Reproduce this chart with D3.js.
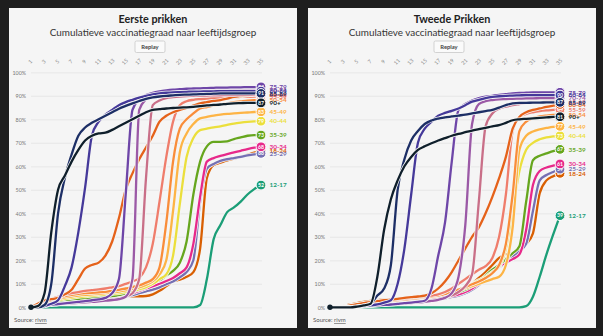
<!DOCTYPE html>
<html>
<head>
<meta charset="utf-8">
<script src="https://cdnjs.cloudflare.com/ajax/libs/d3/7.8.5/d3.min.js"></script>
<style>
  body { margin: 0; background: #1e1e1e; }
  svg { display: block; font-family: Lato, "Open Sans", sans-serif; }
</style>
</head>
<body>
<svg id="chart"></svg>
<script>
const width = 603;
const height = 336;

const weeks = d3.range(1, 36);
const xTicks = d3.range(1, 36, 2);
const yTicks = d3.range(0, 101, 10);

const groups = ['12-17', '18-24', '25-29', '30-34', '35-39', '40-44', '45-49', '50-54',
                '55-59', '60-64', '65-69', '70-74', '75-79', '80-84', '85-89', '90+'];
const groupColors = ['#1b9e77', '#d95f02', '#7570b3', '#e7298a', '#66a61e', '#ebdf3c', '#fdb445', '#f98d3a',
                     '#ef7d6c', '#e5621a', '#c96f88', '#9b59a6', '#6e46a8', '#45399a', '#1d2f66', '#0f1f2b'];

// eerste prikken, % per week
const eerste1217 = [0,0,0,0,0,0,0,0,0,0,0,0,0,0,0,0,0,0,0,0,0,0,0,0,0,1,12,29,35,40.5,42.5,45,48,50.3,52];
const eerste1824 = [0,1,2,2.5,3,3.3,3.6,3.9,4.1,4.3,4.4,4.5,4.5,4.6,4.6,4.7,4.7,4.8,5.5,7,9,11,11.8,13,15,25,55,60.5,61.5,62.5,63.3,64,64.9,65.8,66.6];
const eerste2529 = [0,0.4,1,1.5,1.8,2,2.2,2.4,2.6,2.8,3,3.2,3.5,3.9,4.5,5.2,6,6.8,7.5,8.5,9.8,11,12.8,15,20,45,59,61,62.3,63,63.5,64,64.6,65.1,65.5];
const eerste3034 = [0,0.5,1.2,1.8,2.2,2.5,2.7,2.9,3.1,3.3,3.5,3.7,4,4.5,5.2,6,7,8,9,10,11.2,12.5,14.5,17,27,47,62,63.5,64.4,65.2,65.9,66.6,67.3,67.9,68.3];
const eerste3539 = [0,0.5,1.3,2,2.6,3,3.3,3.6,3.9,4.1,4.3,4.5,4.8,5.2,5.8,6.6,7.5,8.5,10.5,11.5,13.5,15.5,19,28,48,62,68.5,70.4,70.4,70.6,71.6,72.3,73,73.3,73.3];
const eerste4044 = [0,0.6,1.5,2.3,3,3.6,4,4.4,4.7,5,5.2,5.4,5.7,6,6.5,7,7.7,8.6,10,12,14,22,44,64,72,75.4,76,76.6,77,77.6,78.2,78.6,78.9,79.1,79.2];
const eerste4549 = [0,0.7,1.8,2.7,3.5,4.2,4.6,5,5.3,5.5,5.7,6,6.3,6.7,7.2,7.8,8.5,9.5,11,14,20,41,66,74,78,80.4,81,81.6,82,82.3,82.5,82.7,82.9,83.1,83.2];
const eerste5054 = [0,0.8,2,3,4,4.8,5.3,5.7,6,6.2,6.4,6.6,7,7.4,8,8.6,9.3,10.5,12,17,36,62,76,80,82.5,84.6,85.2,85.8,86.2,86.8,87.3,87.6,87.9,88.1,88.2];
const eerste5559 = [0,1,2.5,3.5,4.5,5.5,6,6.5,7,7.3,7.6,8,8.5,9,10,11,12.5,17,27,45,64,79,86,87.7,88.3,88.6,88.8,89,89.1,89.2,89.4,89.5,89.6,89.7,89.8];
const eerste6064 = [0,1.5,3,3.5,4,5.5,7.5,12,16.5,18,19,22,28,38,50,57,63,68,73,79,81.5,83,84,84.8,85.8,86.8,87.3,87.8,88.2,88.8,89.5,89.9,90.2,90.5,90.6];
const eerste6569 = [0,0.3,0.8,1.2,1.5,1.8,2,2.2,2.4,2.6,2.8,3,3.3,3.8,4.5,6,12,55,86,88,89,89.4,89.7,89.9,90,90.1,90.1,90.2,90.2,90.3,90.3,90.4,90.4,90.5,90.5];
const eerste7074 = [0,0.3,0.7,1,1.3,1.5,1.7,1.9,2.1,2.3,2.5,2.8,3.1,3.5,4.5,12,84,88.5,90.3,91,91.4,91.7,91.9,92,92.1,92.2,92.3,92.3,92.4,92.4,92.5,92.5,92.5,92.6,92.6];
const eerste7579 = [0,0.3,0.7,1,1.4,1.7,2,2.3,2.6,3,3.4,4,6,12,48,84,88.5,90.3,91.3,91.9,92.3,92.6,92.8,93,93.1,93.2,93.3,93.4,93.5,93.5,93.6,93.6,93.7,93.7,93.8];
const eerste8084 = [0,0,0.5,1.5,3,9,17,32,51,73,79,82,84,86,87.3,88.3,89.2,90,90.6,91,91.3,91.5,91.6,91.7,91.8,91.8,91.9,91.9,92,92,92,92,92,92,92];
const eerste8589 = [0,0,1,10,40,55,65,73,76.5,78.5,80,81.5,83,84.5,85.7,86.8,87.8,88.7,89.3,89.7,90,90.2,90.4,90.5,90.6,90.7,90.8,90.9,91,91,91,91,91,91,91];
const eerste90 = [0,0.5,6,32,50,56,62,67,71,73,74,74.3,75.5,77,78.5,80,81.5,83,84,84.3,84.6,84.8,85,85.1,85.3,85.6,85.9,86.1,86.3,86.6,86.8,86.9,87,87,87];

// tweede prikken, % per week
const tweede1217 = [0,0,0,0,0,0,0,0,0,0,0,0,0,0,0,0,0,0,0,0,0,0,0,0,0,0,0,0,0,0.5,4.5,13,22.5,31,39];
const tweede1824 = [0,0,0.5,1.2,1.8,2.3,2.7,3,3.3,3.5,3.7,3.9,4,4.1,4.2,4.3,4.5,4.8,5.5,6.5,8,10,12.5,15,18,21,22.5,23,24,27,31.5,48.5,54,55.8,57];
const tweede2529 = [0,0,0.2,0.4,0.6,0.8,1,1.2,1.4,1.6,1.8,2,2.2,2.4,2.6,2.9,3.3,3.8,4.4,5,6,7.5,9.5,12,14.5,17,19,21.5,24,27,41,54,56.3,57.6,58.8];
const tweede3034 = [0,0,0.2,0.5,0.8,1,1.2,1.4,1.6,1.8,2,2.2,2.4,2.7,3,3.3,3.7,4.2,4.8,5.5,6.5,8,10,12.5,15,17.5,19,20.5,22.5,33,52,58,59.5,60.3,61];
const tweede3539 = [0,0,0.2,0.5,0.8,1.1,1.4,1.7,2,2.3,2.6,2.9,3.2,3.5,3.8,4.1,4.5,5,5.7,6.5,7.5,9,11,13.5,16,18,20.5,23,26,45,62.6,64.5,65.5,66.5,67.2];
const tweede4044 = [0,0,0.2,0.6,0.9,1.2,1.5,1.8,2.1,2.4,2.7,3,3.3,3.6,3.9,4.2,4.6,5.1,6,7,8.5,10,11.5,13,15,17.3,25,41,58,67,70,71.5,72.3,72.7,73];
const tweede4549 = [0,0,0.3,0.7,1,1.3,1.6,1.9,2.2,2.5,2.8,3.1,3.4,3.7,4,4.3,4.7,5.2,6,7,8,9,10,11,12,13,18,34,67,73,74.8,75.7,76.3,76.8,77];
const tweede5054 = [0,0,0.3,0.7,1.1,1.5,1.8,2.1,2.4,2.7,3,3.3,3.6,3.9,4.2,4.6,5,5.6,6.5,7.5,8.5,9.8,11,12.5,14.5,18,27,48,75,79,80.5,81.2,81.6,81.9,82];
const tweede5559 = [0,0,0.3,0.8,1.3,1.8,2.2,2.5,2.8,3.1,3.4,3.7,4,4.3,4.6,5,5.5,6.5,8,10,12,14,16,17.5,21,30,48,75,81,82.3,83,83.5,83.8,84,84.2];
const tweede6064 = [0,0,0.3,0.8,1.3,1.8,2.2,2.6,3,3.3,3.6,4,4.3,4.6,5,6,8,11,15,20,25,30,34,40,47,55,64,76,81,83,84,84.6,85.3,85.8,86.3];
const tweede6569 = [0,0,0,0.2,0.4,0.6,0.8,1,1.2,1.4,1.6,1.8,2,2.3,2.6,3,3.5,4.2,5,6.5,9,14,45,77,82.5,84.5,85.4,86,86.5,87,87.2,87.3,87.4,87.5,87.5];
const tweede7074 = [0,0,0,0,0.2,0.4,0.6,0.8,1,1.2,1.4,1.6,1.8,2,2.3,2.7,3.2,4,6,13,35,78,86.5,87.7,88.2,88.5,88.6,88.7,88.8,88.9,88.9,89,89,89,89];
const tweede7579 = [0,0,0,0,0.2,0.4,0.6,0.8,1,1.2,1.5,1.8,2,2.3,2.8,8,22,36,62,84,86.5,88,89,89.6,90,90.4,90.7,91,91.2,91.3,91.4,91.4,91.5,91.5,91.5];
const tweede8084 = [0,0,0,0,0.2,0.5,0.8,1.2,2,3,10,25,48,70,76,79,81.5,82.7,83.6,84.6,86,87.5,88.3,89,89.5,89.8,90,90.1,90.2,90.3,90.3,90.3,90.3,90.3,90.3];
const tweede8589 = [0,0,0,0,0.3,0.8,1.5,5,8,18,50,63,71,75,78,79.5,80.3,80.8,81.2,81.6,82,82.5,83,83.5,84,85,86,86.8,87,87,87.1,87.1,87.2,87.2,87.2];
const tweede90 = [0,0,0,0,0.3,0.8,1.5,13,33,46,54,60,64,67,68.5,69.8,71,72,73,73.8,74.5,75.2,75.8,76.4,77,77.5,78.5,79.6,80,80.2,80.4,80.6,80.8,81,81.1];

const eersteValues = [eerste1217, eerste1824, eerste2529, eerste3034, eerste3539, eerste4044, eerste4549, eerste5054,
                      eerste5559, eerste6064, eerste6569, eerste7074, eerste7579, eerste8084, eerste8589, eerste90];
const tweedeValues = [tweede1217, tweede1824, tweede2529, tweede3034, tweede3539, tweede4044, tweede4549, tweede5054,
                      tweede5559, tweede6064, tweede6569, tweede7074, tweede7579, tweede8084, tweede8589, tweede90];

const panelW = 288;
const panelH = 320;

const svg = d3.select('#chart')
            .attr('width', width)
            .attr('height', height);

svg.append('rect').attr('width', width).attr('height', height).attr('fill', '#1e1e1e');

const x = d3.scaleLinear().domain([1, 35]).range([22, 252]);
const y = d3.scaleLinear().domain([0, 100]).range([299.3, 64.3]);

const line = d3.line()
    .x((d, i) => x(weeks[i]))
    .y(d => y(d))
    .curve(d3.curveMonotoneX);

function drawPanel(left, title, values) {
    const series = groups.map((g, i) => ({group: g, color: groupColors[i], values: values[i]}));

    const g = svg.append('g').attr('transform', `translate(${left}, 8)`);
    g.append('rect').attr('width', panelW).attr('height', panelH).attr('fill', '#f5f5f5');

    g.append('text')
        .attr('x', panelW / 2).attr('y', 15)
        .attr('text-anchor', 'middle')
        .attr('font-size', 10.8).attr('font-weight', 'bold').attr('fill', '#222')
        .text(title);
    g.append('text')
        .attr('x', panelW / 2).attr('y', 28)
        .attr('text-anchor', 'middle')
        .attr('font-size', 9.9).attr('fill', '#333')
        .text('Cumulatieve vaccinatiegraad naar leeftijdsgroep');

    // replay button
    const btn = g.append('g').attr('transform', `translate(${panelW / 2 - 18}, 33)`);
    btn.append('rect').attr('width', 30).attr('height', 11.5).attr('rx', 1.5)
        .attr('fill', '#fafafa').attr('stroke', '#c8c8c8').attr('stroke-width', 0.8);
    btn.append('text').attr('x', 15).attr('y', 8).attr('text-anchor', 'middle')
        .attr('font-size', 5.8).attr('font-weight', 'bold').attr('fill', '#444')
        .text('Replay');

    // y grid + labels
    const yAxis = g.append('g').attr('transform', `translate(${x(1)}, 0)`)
        .call(d3.axisLeft(y).tickValues(yTicks).tickFormat(d => d + '%')
              .tickSize(-(x(35) - x(1) + 1)).tickPadding(5));
    yAxis.select('.domain').remove();
    yAxis.selectAll('line').attr('stroke', '#e4e4e4').attr('stroke-width', 0.8);
    yAxis.selectAll('text').attr('font-size', 5.3).attr('fill', '#777').attr('font-family', 'Lato, sans-serif');

    // x labels on top
    const xAxis = g.append('g').attr('transform', 'translate(0, 55)')
        .call(d3.axisTop(x).tickValues(xTicks).tickSize(0).tickPadding(0));
    xAxis.select('.domain').remove();
    xAxis.selectAll('text')
        .attr('font-size', 5.3).attr('fill', '#888').attr('font-family', 'Lato, sans-serif')
        .attr('text-anchor', 'middle').attr('dy', 0)
        .attr('transform', 'rotate(-45)');

    // lines with a light halo
    const lines = g.append('g').selectAll('g').data(series).join('g');
    lines.append('path')
        .attr('d', d => line(d.values))
        .attr('fill', 'none').attr('stroke', '#f5f5f5').attr('stroke-width', 3.8);
    lines.append('path')
        .attr('d', d => line(d.values))
        .attr('fill', 'none').attr('stroke', d => d.color).attr('stroke-width', 2.3)
        .attr('stroke-linejoin', 'round');

    // start dot
    g.append('circle').attr('cx', x(1)).attr('cy', y(0)).attr('r', 2.7).attr('fill', groupColors[15]);

    // end labels
    const ends = g.append('g').selectAll('g').data(series).join('g')
        .attr('transform', d => `translate(${x(35)}, ${y(d.values[d.values.length - 1])})`);
    ends.append('circle').attr('r', 4.9)
        .attr('fill', d => d.color).attr('stroke', '#fff').attr('stroke-width', 1);
    ends.append('text')
        .attr('text-anchor', 'middle').attr('dy', '0.35em')
        .attr('font-size', 5.2).attr('font-weight', 'bold').attr('fill', '#fff')
        .text(d => Math.round(d.values[d.values.length - 1]));
    ends.append('text')
        .attr('x', 8.5).attr('dy', '0.35em')
        .attr('font-size', 6.4).attr('font-weight', 'bold').attr('fill', d => d.color)
        .text(d => d.group);

    // source
    const src = g.append('text').attr('x', 5).attr('y', 314)
        .attr('font-size', 6).attr('fill', '#555');
    src.append('tspan').text('Source: ');
    src.append('tspan').attr('text-decoration', 'underline').text('rivm');
}

drawPanel(9, 'Eerste prikken', eersteValues);
drawPanel(308, 'Tweede Prikken', tweedeValues);
</script>
</body>
</html>
